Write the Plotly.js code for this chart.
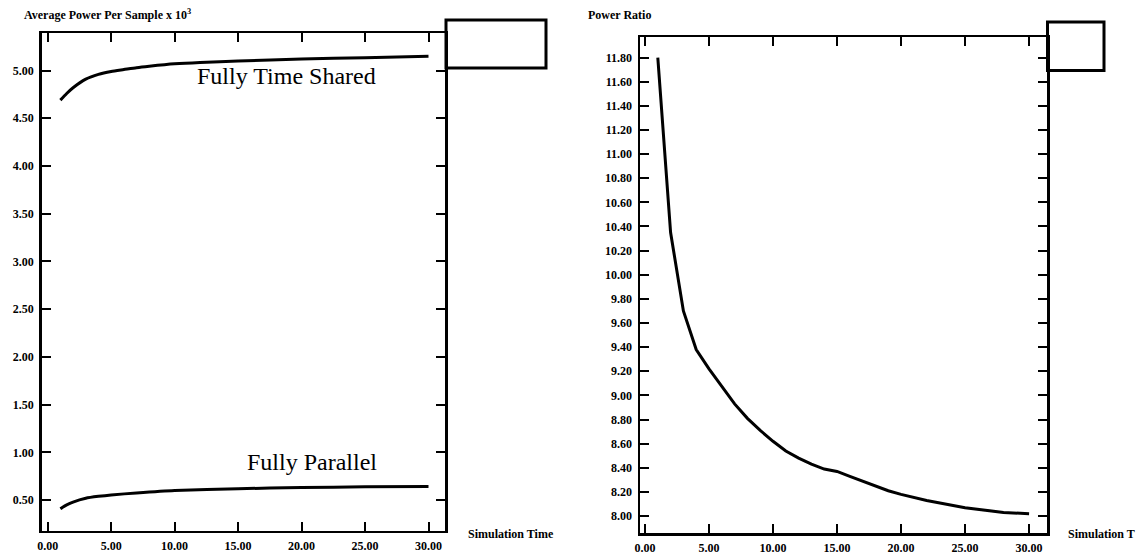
<!DOCTYPE html>
<html>
<head>
<meta charset="utf-8">
<script src="https://cdn.plot.ly/plotly-3.0.1.min.js"></script>
<style>html,body{margin:0;padding:0;background:#fff;}#chart{width:1142px;height:557px;}</style>
</head>
<body>
<div id="chart"></div>
<script>
// Left chart: average power per sample (x 10^3) vs simulation time
const sharedTime = [1, 1.5, 2, 3, 4, 5, 6, 7, 8, 10, 12, 15, 20, 25, 30];
const sharedPower = [4.69, 4.76, 4.82, 4.91, 4.96, 4.99, 5.01, 5.03, 5.045, 5.07, 5.085, 5.10, 5.12, 5.135, 5.15];
const parallelTime = [1, 1.5, 2, 3, 4, 5, 7, 10, 15, 20, 25, 30];
const parallelPower = [0.41, 0.45, 0.48, 0.52, 0.54, 0.555, 0.575, 0.60, 0.62, 0.632, 0.64, 0.643];
// Right chart: power ratio vs simulation time
const ratioTime = [1, 2, 3, 4, 5, 6, 7, 8, 9, 10, 11, 12, 13, 14, 15, 16, 17, 18, 19, 20, 22, 25, 28, 30];
const ratioValue = [11.80, 10.35, 9.70, 9.38, 9.22, 9.07, 8.93, 8.81, 8.71, 8.62, 8.54, 8.48, 8.43, 8.39, 8.37, 8.33, 8.29, 8.25, 8.21, 8.18, 8.13, 8.07, 8.03, 8.02];

const leftYTicks = [0.5, 1.0, 1.5, 2.0, 2.5, 3.0, 3.5, 4.0, 4.5, 5.0];
const rightYTicks = [8.0, 8.2, 8.4, 8.6, 8.8, 9.0, 9.2, 9.4, 9.6, 9.8, 10.0, 10.2, 10.4, 10.6, 10.8, 11.0, 11.2, 11.4, 11.6, 11.8];
const xTicks = [0, 5, 10, 15, 20, 25, 30];

const leftTitle = 'Average Power Per Sample x 10<sup>3</sup>';
const rightTitle = 'Power Ratio';
const xLabelLeft = 'Simulation Time';
const xLabelRight = 'Simulation T';
const curveLabels = ['Fully Time Shared', 'Fully Parallel'];

const W = 1142, H = 557;
const px = v => v / W;
const py = v => 1 - v / H;

const tickFont = {family: 'Liberation Serif, Times New Roman, serif', size: 12, color: '#000', weight: 'bold'};
const lineStyle = {color: '#000', width: 3};

function axisBase(extra) {
  return Object.assign({
    showline: true, linecolor: '#000', linewidth: 2.5, mirror: 'ticks',
    ticks: 'inside', ticklen: 9, tickwidth: 2, tickcolor: '#000',
    showgrid: false, zeroline: false, tickformat: '.2f',
    tickfont: tickFont, fixedrange: true
  }, extra);
}

const traces = [
  {x: sharedTime, y: sharedPower, xaxis: 'x', yaxis: 'y', mode: 'lines', line: Object.assign({shape: 'spline', smoothing: 0.6}, lineStyle), name: curveLabels[0], hoverinfo: 'skip'},
  {x: parallelTime, y: parallelPower, xaxis: 'x', yaxis: 'y', mode: 'lines', line: Object.assign({shape: 'spline', smoothing: 0.6}, lineStyle), name: curveLabels[1], hoverinfo: 'skip'},
  {x: ratioTime, y: ratioValue, xaxis: 'x2', yaxis: 'y2', mode: 'lines', line: lineStyle, name: rightTitle, hoverinfo: 'skip'}
];

const layout = {
  width: W, height: H,
  margin: {l: 0, r: 0, t: 0, b: 0},
  paper_bgcolor: '#fff', plot_bgcolor: '#fff',
  showlegend: false,
  xaxis: axisBase({domain: [px(41.7), px(445)], range: [-0.47, 31.3], tickvals: xTicks, anchor: 'y', ticklabelstandoff: 2}),
  yaxis: axisBase({domain: [py(530.7), py(33.3)], range: [0.18, 5.39], tickvals: leftYTicks, anchor: 'x', ticklabelstandoff: 3}),
  xaxis2: axisBase({domain: [px(640), px(1047)], range: [-0.39, 31.4], tickvals: xTicks, anchor: 'y2', ticklabelstandoff: 2}),
  yaxis2: axisBase({domain: [py(533), py(37)], range: [7.86, 11.97], tickvals: rightYTicks, anchor: 'x2', ticklabelstandoff: 3}),
  shapes: [
    {type: 'rect', xref: 'paper', yref: 'paper', x0: px(446), x1: px(546), y0: py(68), y1: py(20), line: {color: '#000', width: 3}},
    {type: 'rect', xref: 'paper', yref: 'paper', x0: px(1047.5), x1: px(1104), y0: py(70.5), y1: py(22), line: {color: '#000', width: 3}}
  ],
  annotations: [
    {text: leftTitle, xref: 'paper', yref: 'paper', x: px(22), y: py(15), xanchor: 'left', yanchor: 'middle', showarrow: false, font: {family: 'Liberation Serif, serif', size: 12, color: '#000', weight: 'bold'}},
    {text: rightTitle, xref: 'paper', yref: 'paper', x: px(586), y: py(15), xanchor: 'left', yanchor: 'middle', showarrow: false, font: {family: 'Liberation Serif, serif', size: 12, color: '#000', weight: 'bold'}},
    {text: xLabelLeft, xref: 'paper', yref: 'paper', x: px(466), y: py(534), xanchor: 'left', yanchor: 'middle', showarrow: false, font: {family: 'Liberation Serif, serif', size: 12, color: '#000', weight: 'bold'}},
    {text: xLabelRight, xref: 'paper', yref: 'paper', x: px(1066), y: py(534), xanchor: 'left', yanchor: 'middle', showarrow: false, font: {family: 'Liberation Serif, serif', size: 12, color: '#000', weight: 'bold'}},
    {text: curveLabels[0], xref: 'paper', yref: 'paper', x: px(286.5), y: py(76), xanchor: 'center', yanchor: 'middle', showarrow: false, font: {family: 'Liberation Serif, serif', size: 24, color: '#000'}},
    {text: curveLabels[1], xref: 'paper', yref: 'paper', x: px(311.5), y: py(462), xanchor: 'center', yanchor: 'middle', showarrow: false, font: {family: 'Liberation Serif, serif', size: 24, color: '#000'}}
  ]
};

Plotly.newPlot('chart', traces, layout, {staticPlot: true, displayModeBar: false});
</script>
</body>
</html>
